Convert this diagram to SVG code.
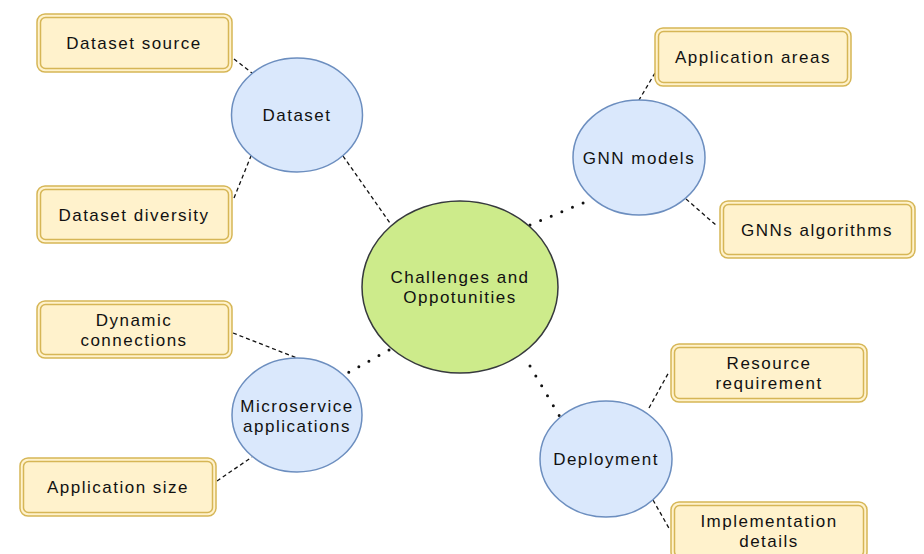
<svg xmlns="http://www.w3.org/2000/svg" width="924" height="554" viewBox="0 0 924 554">
<defs>
<style>
.box{fill:#fff2cc;stroke:#d6b656;stroke-width:1.5}
.boxi{fill:none;stroke:#d6b656;stroke-width:1.5}
.el{fill:#dae8fc;stroke:#6c8ebf;stroke-width:1.5}
.ctr{fill:#cdeb8b;stroke:#36393d;stroke-width:1.5}
.t{font-family:"Liberation Sans",Arial,sans-serif;font-size:17px;letter-spacing:1.5px;fill:#111;text-anchor:middle}
.dash{fill:none;stroke:#111;stroke-width:1.3;stroke-dasharray:4 3}
.dot{fill:none;stroke:#111;stroke-width:3;stroke-linecap:round;stroke-dasharray:0 11.5}
</style>
</defs>
<rect width="924" height="554" fill="#fff"/>
<g id="connectors">
<line class="dash" x1="234" y1="59" x2="252" y2="73"/>
<line class="dash" x1="234" y1="198" x2="251" y2="156"/>
<line class="dash" x1="343" y1="156" x2="390" y2="223"/>
<line class="dash" x1="655" y1="73" x2="639" y2="100"/>
<line class="dash" x1="686" y1="199" x2="717" y2="226"/>
<line class="dash" x1="233" y1="333" x2="297" y2="358"/>
<line class="dash" x1="217" y1="481" x2="252" y2="457"/>
<line class="dash" x1="649" y1="408" x2="669" y2="372"/>
<line class="dash" x1="653" y1="500" x2="670" y2="530"/>
<line class="dot" x1="530" y1="225" x2="590" y2="200"/>
<line class="dot" x1="389" y1="350" x2="344" y2="375"/>
<line class="dot" x1="530" y1="366" x2="560" y2="417"/>
</g>
<g id="center">
<ellipse class="ctr" cx="460" cy="287" rx="98" ry="86"/>
<text class="t" x="460" y="283">Challenges and</text>
<text class="t" x="460" y="303">Oppotunities</text>
</g>
<g id="dataset">
<ellipse class="el" cx="297" cy="115" rx="65.5" ry="57"/>
<text class="t" x="297" y="121">Dataset</text>
</g>
<g id="gnn-models">
<ellipse class="el" cx="639" cy="157.5" rx="66" ry="57.5"/>
<text class="t" x="639" y="163.5">GNN models</text>
</g>
<g id="microservice">
<ellipse class="el" cx="297" cy="415" rx="65" ry="57"/>
<text class="t" x="297" y="411.5">Microservice</text>
<text class="t" x="297" y="431.5">applications</text>
</g>
<g id="deployment">
<ellipse class="el" cx="606" cy="459" rx="66" ry="58"/>
<text class="t" x="606" y="465">Deployment</text>
</g>
<g id="dataset-source">
<rect class="box" x="37" y="14" width="195" height="58" rx="8"/>
<rect class="boxi" x="40.5" y="17.5" width="188" height="51" rx="5"/>
<text class="t" x="134" y="49">Dataset source</text>
</g>
<g id="dataset-diversity">
<rect class="box" x="37" y="186" width="195" height="57" rx="8"/>
<rect class="boxi" x="40.5" y="189.5" width="188" height="50" rx="5"/>
<text class="t" x="134" y="220.5">Dataset diversity</text>
</g>
<g id="application-areas">
<rect class="box" x="655" y="28" width="196" height="58" rx="8"/>
<rect class="boxi" x="658.5" y="31.5" width="189" height="51" rx="5"/>
<text class="t" x="753" y="63">Application areas</text>
</g>
<g id="gnns-algorithms">
<rect class="box" x="720" y="201" width="195" height="57" rx="8"/>
<rect class="boxi" x="723.5" y="204.5" width="188" height="50" rx="5"/>
<text class="t" x="817" y="235.5">GNNs algorithms</text>
</g>
<g id="dynamic-connections">
<rect class="box" x="37" y="301" width="195" height="57" rx="8"/>
<rect class="boxi" x="40.5" y="304.5" width="188" height="50" rx="5"/>
<text class="t" x="134" y="326">Dynamic</text>
<text class="t" x="134" y="346">connections</text>
</g>
<g id="application-size">
<rect class="box" x="20" y="458" width="196" height="58" rx="8"/>
<rect class="boxi" x="23.5" y="461.5" width="189" height="51" rx="5"/>
<text class="t" x="118" y="493">Application size</text>
</g>
<g id="resource-requirement">
<rect class="box" x="671" y="344" width="196" height="58" rx="8"/>
<rect class="boxi" x="674.5" y="347.5" width="189" height="51" rx="5"/>
<text class="t" x="769" y="369">Resource</text>
<text class="t" x="769" y="389">requirement</text>
</g>
<g id="implementation-details">
<rect class="box" x="671" y="502" width="196" height="58" rx="8"/>
<rect class="boxi" x="674.5" y="505.5" width="189" height="51" rx="5"/>
<text class="t" x="769" y="527">Implementation</text>
<text class="t" x="769" y="547">details</text>
</g>
</svg>
